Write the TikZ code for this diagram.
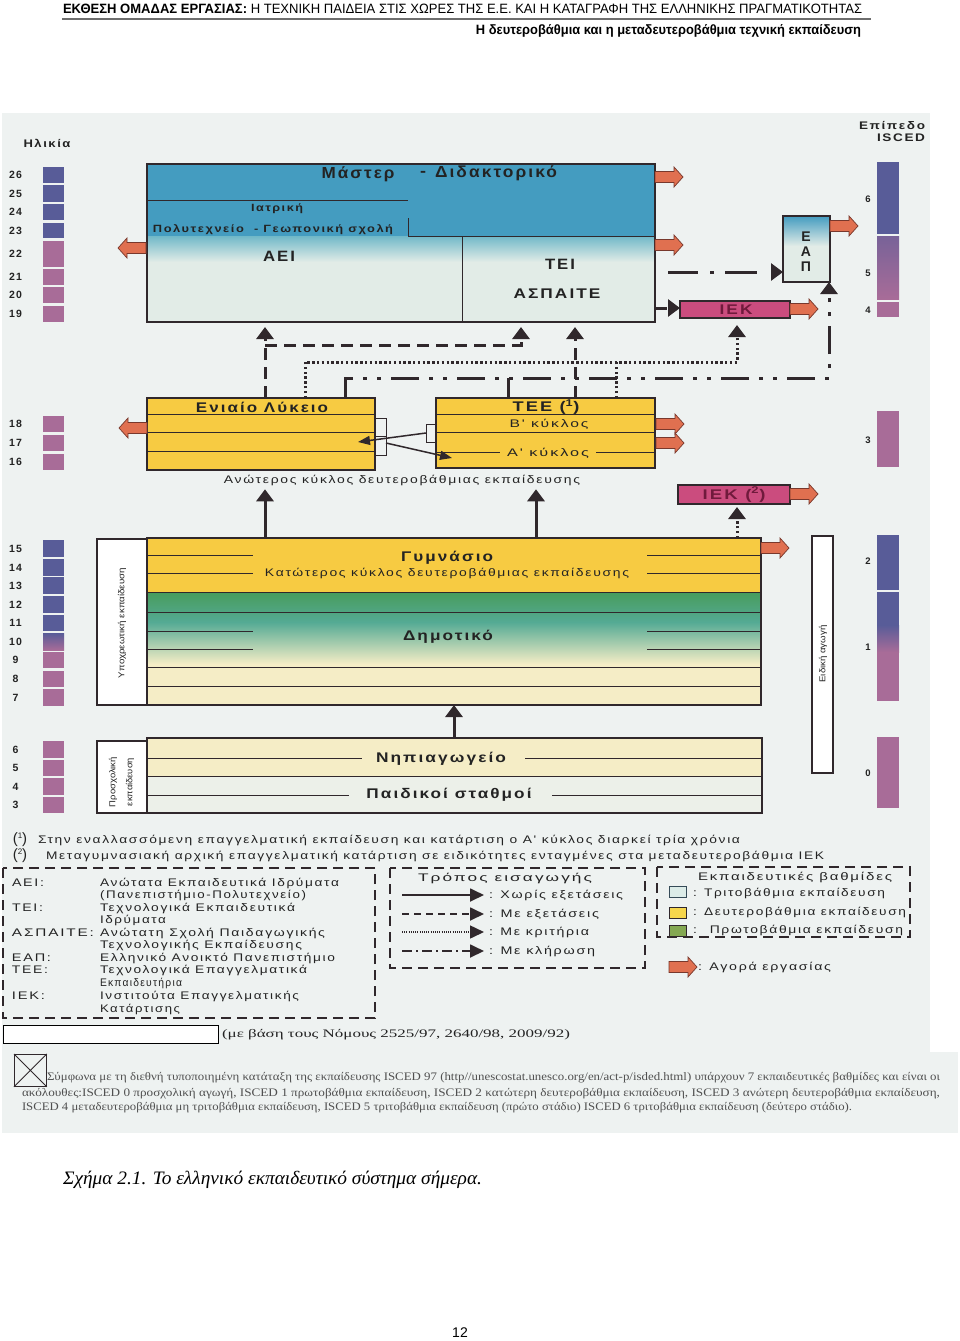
\documentclass[tikz,border=0pt]{standalone}
\usepackage{graphicx}
\usepackage{fontspec}
\setmainfont{Liberation Sans}
\newfontfamily\spf[LetterSpace=12]{Liberation Sans}
\newfontfamily\srff{Liberation Serif}
\usetikzlibrary{arrows.meta}
\newcommand\myfw[2]{\resizebox{#1pt}{\height}{#2}}
\newcommand\myfs[1]{\fontsize{#1}{#1}\selectfont}
\newcommand\SB[3]{{\spf\bfseries\myfs{#1}\myfw{#2}{#3}}}
\newcommand\SR[3]{{\spf\myfs{#1}\myfw{#2}{#3}}}
\newcommand\PR[3]{{\myfs{#1}\myfw{#2}{#3}}}
\definecolor{bg}{RGB}{238,242,241}
\definecolor{tblue}{RGB}{68,156,192}
\definecolor{tteal}{RGB}{112,184,200}
\definecolor{tpale}{RGB}{226,236,231}
\definecolor{yel}{RGB}{247,203,66}
\definecolor{dgreen}{RGB}{72,156,92}
\definecolor{teal2}{RGB}{84,170,148}
\definecolor{pyel}{RGB}{245,237,198}
\definecolor{ppale}{RGB}{236,240,233}
\definecolor{orng}{RGB}{224,112,80}
\definecolor{orline}{RGB}{120,56,44}
\definecolor{mag}{RGB}{203,76,126}
\definecolor{magtxt}{RGB}{112,26,60}
\definecolor{pblue}{RGB}{88,92,152}
\definecolor{mauve}{RGB}{168,108,152}
\definecolor{ink}{RGB}{48,40,44}
\definecolor{tx}{RGB}{35,35,35}
\definecolor{gtxt}{RGB}{80,80,80}
\definecolor{lgreen}{RGB}{132,168,82}
\definecolor{lyel}{RGB}{246,214,76}
\definecolor{lpale}{RGB}{220,236,232}
\definecolor{rulegray}{RGB}{110,110,110}
\tikzset{pics/workarr/.style={code={%
  \draw[fill=orng,draw=orline,line width=0.7pt,line join=miter]
    (0,-5.5) -- (19,-5.5) -- (19,-10) -- (28,0) -- (19,10) -- (19,5.5) -- (0,5.5) -- cycle;}}}
\begin{document}
\begin{tikzpicture}[x=1pt,y=-1pt,
  txt/.style={inner sep=0pt,outer sep=0pt,text=tx},
  num/.style={inner sep=0pt,outer sep=0pt,text=tx,font=\spf\bfseries\myfs{10.5}},
  isc/.style={inner sep=0pt,outer sep=0pt,text=tx,font=\bfseries\myfs{9.5}},
  area/.style={inner sep=0pt,outer sep=0pt,anchor=north west,draw=ink,line width=1.1pt},
  conn/.style={draw=ink,line width=3pt},
  noexam/.style={conn},
  exam/.style={conn,dash pattern=on 12pt off 7pt},
  crit/.style={conn,dash pattern=on 2.4pt off 2.4pt},
  lot/.style={conn,dash pattern=on 28pt off 10pt on 4pt off 10pt on 4pt off 10pt},
  lot2/.style={conn,dash pattern=on 30pt off 12pt on 4pt off 11pt on 32pt off 20pt},
  arr/.style={-{Triangle[width=17pt,length=12pt]}},
  arr2/.style={-{Triangle[width=13pt,length=14pt]}},
  arr3/.style={-{Triangle[width=9pt,length=12pt]}},
  thinln/.style={draw=ink,line width=0.9pt},
  leg/.style={draw=ink,line width=1.6pt,dash pattern=on 10pt off 6pt},
  lsolid/.style={draw=ink,line width=1.8pt},
  ldash/.style={draw=ink,line width=1.8pt,dash pattern=on 7pt off 5pt},
  ldot/.style={draw=ink,line width=1.5pt,dash pattern=on 1pt off 1.2pt},
  llot/.style={draw=ink,line width=1.8pt,dash pattern=on 10pt off 4pt on 2pt off 4pt},
]
\useasboundingbox (0,0) rectangle (960,1341);
\fill[white] (0,0) rectangle (960,1341);
\fill[bg] (2,113) rectangle (930,1052);
\fill[bg] (2,1052) rectangle (958,1133);

% ---------- header
\node[txt,text=black,anchor=base west] (h1) at (63,13) {\myfs{13.5}\myfw{799}{\textbf{ΕΚΘΕΣΗ ΟΜΑΔΑΣ ΕΡΓΑΣΙΑΣ:} Η ΤΕΧΝΙΚΗ ΠΑΙΔΕΙΑ ΣΤΙΣ ΧΩΡΕΣ ΤΗΣ Ε.Ε. ΚΑΙ Η ΚΑΤΑΓΡΑΦΗ ΤΗΣ ΕΛΛΗΝΙΚΗΣ ΠΡΑΓΜΑΤΙΚΟΤΗΤΑΣ}};
\draw[rulegray,line width=1.5pt] (62,19) -- (871,19);
\node[txt,text=black,anchor=base east] (h2) at (861,34) {\myfs{13.5}\myfw{385}{\textbf{Η δευτεροβάθμια και η μεταδευτεροβάθμια τεχνική εκπαίδευση}}};

% ---------- age column
\node[txt] (hl) at (47,143) {\SB{11}{47}{Ηλικία}};
\foreach \a/\t/\b/\c in {26/167/183/pblue,25/185/202/pblue,24/204/220/pblue,23/223/238/pblue,22/241/267/mauve,21/269/285/mauve,20/287/303/mauve,19/306/322/mauve,18/416/432/mauve,17/435/451/mauve,16/454/470/mauve,15/540/557/pblue,14/559/576/pblue,13/577/594/pblue,12/596/613/pblue,11/615/631/pblue,9/652/668/mauve,8/671/687/mauve,7/689/706/mauve,6/741/758/mauve,5/760/776/mauve,4/778/795/mauve,3/797/813/mauve}{
  \fill[\c] (43,\t) rectangle (64,\b);
  \node[num] (age\a) at (15.5,{(\t+\b)/2}) {\a};
}
\shade[top color=pblue,bottom color=mauve] (43,633) rectangle (64,650);
\node[num] (age10) at (15.5,641.5) {10};

% ---------- ISCED column
\node[txt,anchor=east] (ep1) at (925,126) {\SB{11}{66}{Επίπεδο}};
\node[txt,anchor=east] (ep2) at (925,138) {\SB{11}{48}{ISCED}};
\fill[pblue] (877,162) rectangle (899,234);
\shade[top color=pblue!60!mauve,bottom color=mauve] (877,236) rectangle (899,299);
\fill[mauve] (877,302) rectangle (899,317);
\fill[mauve] (877,411) rectangle (899,467);
\fill[pblue] (877,535) rectangle (899,590);
\fill[pblue] (877,592) rectangle (899,625);
\shade[top color=pblue,bottom color=mauve] (877,625) rectangle (899,652);
\fill[mauve] (877,652) rectangle (899,701);
\fill[mauve] (877,737) rectangle (899,808);
\node[isc] (is6) at (868,199) {6};
\node[isc] (is5) at (868,273) {5};
\node[isc] (is4) at (868,310) {4};
\node[isc] (is3) at (868,440) {3};
\node[isc] (is2) at (868,561) {2};
\node[isc] (is1) at (868,647) {1};
\node[isc] (is0) at (868,773) {0};

% ---------- tertiary block
\fill[tblue] (147,164) rectangle (655,236);
\shade[top color=tteal,bottom color=tpale] (147,236) rectangle (655,262);
\fill[tpale] (147,262) rectangle (655,322);
\node[area,minimum width=508pt,minimum height=158pt] (tert) at (147,164) {};
\node[area,draw=none,minimum width=315pt,minimum height=86pt] (aei) at (147,236) {};
\node[area,draw=none,minimum width=193pt,minimum height=86pt] (tei) at (462,236) {};
\draw[thinln] (147,200) -- (408,200);
\draw[thinln] (408,218) -- (408,236) -- (655,236);
\draw[thinln] (462,236) -- (462,322);
\node[txt] (ms1) at (358,174) {\SB{16}{73}{Μάστερ}};
\node[txt] (ms2) at (423,174) {\SB{16}{6}{-}};
\node[txt] (ms3) at (496,173) {\SB{16}{122}{Διδακτορικό}};
\node[txt] (iatr) at (277,209) {\SB{10.5}{52}{Ιατρική}};
\node[txt] (polyt) at (273,230) {\SB{10.5}{240}{Πολυτεχνείο \ - Γεωπονική σχολή}};
\node[txt] (aeiT) at (279,256) {\SB{15}{32}{ΑΕΙ}};
\node[txt] (teiT) at (560,264) {\SB{15}{30}{ΤΕΙ}};
\node[txt] (aspT) at (557,294) {\SB{14}{87}{ΑΣΠΑΙΤΕ}};

% ---------- EAP
\shade[top color=tblue,bottom color=tpale] (783,216) rectangle (830,246);
\fill[tpale] (783,246) rectangle (830,282);
\node[area,minimum width=47pt,minimum height=66pt] (eap) at (783,216) {};
\node[txt] (eapE) at (806,237) {\bfseries\myfs{14}Ε};
\node[txt] (eapA) at (806,252) {\bfseries\myfs{14}Α};
\node[txt] (eapP) at (806,267) {\bfseries\myfs{14}Π};

% ---------- IEK
\node[area,fill=mag,minimum width=110pt,minimum height=17pt] (iek) at (680,301) {};
\node[txt,text=magtxt] (iekT) at (736,310) {\SB{14}{33}{ΙΕΚ}};

% ---------- Lykeio / TEE
\node[area,fill=yel,minimum width=228pt,minimum height=72pt] (lyk) at (147,398) {};
\foreach \y in {414,432,451} \draw[thinln] (147,\y) -- (375,\y);
\node[area,fill=yel,minimum width=219pt,minimum height=70pt] (tee) at (436,398) {};
\foreach \y in {414,432} \draw[thinln] (436,\y) -- (655,\y);
\draw[thinln] (436,452) -- (500,452) (596,452) -- (655,452);
\node[txt] (lykT) at (262,407) {\SB{14}{132}{Ενιαίο Λύκειο}};
\node[txt,anchor=base] (teeT) at (546,411.5) {\SB{14}{67}{ΤΕΕ (\textsuperscript{1})}};
\node[txt,fill=yel] (teeB) at (549,424) {\SR{11}{79}{Β' κύκλος}};
\node[txt,fill=yel] (teeA) at (548,453) {\SR{11}{82}{Α' κύκλος}};
\node[txt] (anot) at (402,480) {\SR{11}{356}{Ανώτερος κύκλος δευτεροβάθμιας εκπαίδευσης}};
% brackets and transfer arrows
\draw[thinln] (375,418) -- (386,418) -- (386,455) -- (375,455);
\draw[thinln] (375,436) -- (386,436);
\draw[thinln] (437,424) -- (426,424) -- (426,442) -- (437,442);
\coordinate (brT) at (426,433);
\coordinate (brL) at (386,443);
\coordinate (inL) at (358,442);
\coordinate (inT) at (452,458);
\draw[ink,line width=1.5pt,arr3] (brT) -- (inL);
\draw[ink,line width=1.5pt,arr3] (brL) -- (inT);

% ---------- IEK (2)
\node[area,fill=mag,minimum width=112pt,minimum height=19pt] (iek2) at (678,485) {};
\node[txt,text=magtxt,anchor=base] (iek2T) at (734,499) {\SB{14}{63}{ΙΕΚ (\textsuperscript{2})}};

% ---------- Gymnasio / Dimotiko
\fill[yel] (147,538) rectangle (761,592);
\shade[top color=dgreen,bottom color=teal2] (147,592) rectangle (761,622);
\shade[top color=teal2,bottom color=pyel] (147,622) rectangle (761,664);
\fill[pyel] (147,664) rectangle (761,705);
\node[area,minimum width=614pt,minimum height=167pt] (gym) at (147,538) {};
\foreach \y in {555,573,631,649} \draw[thinln] (147,\y) -- (253,\y) (647,\y) -- (761,\y);
\foreach \y in {592,612,667,686} \draw[thinln] (147,\y) -- (761,\y);
\node[area,fill=white,minimum width=50pt,minimum height=166pt] (ypox) at (97,539) {};
\node[txt,rotate=90] (ypoxT) at (122,623) {\PR{8.5}{110}{Υποχρεωτική εκπαίδευση}};
\node[txt] (gymT) at (447,558) {\SB{14}{92}{Γυμνάσιο}};
\node[txt] (katT) at (447,573) {\SR{11}{364}{Κατώτερος κύκλος δευτεροβάθμιας εκπαίδευσης}};
\node[txt] (dimT) at (448,637) {\SB{14}{90}{Δημοτικό}};

% ---------- Nipiagogeio
\fill[pyel] (147,738) rectangle (762,776);
\fill[ppale] (147,776) rectangle (762,813);
\node[area,minimum width=615pt,minimum height=75pt] (nip) at (147,738) {};
\draw[thinln] (147,758) -- (362,758) (525,758) -- (762,758);
\draw[thinln] (147,776) -- (762,776);
\draw[thinln] (147,795) -- (349,795) (552,795) -- (762,795);
\node[area,fill=white,minimum width=50pt,minimum height=72pt] (prosx) at (97,741) {};
\node[txt,rotate=90] (prosxA) at (113,782) {\PR{8.5}{50}{Προσχολική}};
\node[txt,rotate=90] (prosxB) at (130,782) {\PR{8.5}{48}{εκπαίδευση}};
\node[txt] (nipT) at (441,759) {\SB{14}{130}{Νηπιαγωγείο}};
\node[txt] (paidT) at (449,795) {\SB{14}{165}{Παιδικοί σταθμοί}};

% ---------- special education
\node[area,fill=white,minimum width=21pt,minimum height=237pt] (eid) at (812,536) {};
\node[txt,rotate=90] (eidT) at (823,654) {\PR{8.5}{57}{Ειδική αγωγή}};

% ---------- labour market arrows
\pic at (655,177) {workarr};
\pic at (655,245) {workarr};
\pic at (830,226) {workarr};
\pic at (790,309) {workarr};
\pic[xscale=-1] at (146,248) {workarr};
\pic[xscale=-1] at (147,428) {workarr};
\pic at (656,424) {workarr};
\pic at (656,443) {workarr};
\pic at (790,494) {workarr};
\pic at (761,548) {workarr};

% ---------- connectors
\coordinate (x265) at (265,0);
\coordinate (x305) at (305,0);
\coordinate (x345) at (345,0);
\coordinate (x454) at (454,0);
\coordinate (x508) at (508,0);
\coordinate (x520) at (521,0);
\coordinate (x535) at (536,0);
\coordinate (x575) at (575,0);
\coordinate (x615) at (616,0);
\coordinate (x737) at (737,0);
\coordinate (x829) at (829,0);
\coordinate (y345) at (0,345);
\coordinate (y362) at (0,362);
\coordinate (y378) at (0,378);
\coordinate (y271) at (0,272);
\coordinate (y309) at (0,308);
\coordinate (teiout) at (668,272);
% with exams
\draw[exam,arr,shorten >=5pt] (lyk.north -| x265) -- (aei.south -| x265);
\draw[exam,arr,shorten >=5pt] (x265 |- y345) -| (tei.south -| x520);
\draw[exam,arr,shorten >=5pt] (tee.north -| x575) -- (tei.south -| x575);
\draw[exam,arr] (tei.east |- y309) -- (iek.west |- y309);
% with criteria
\draw[crit,arr,shorten >=7pt] (lyk.north -| x305) |- (x737 |- y362) -- (iek.south -| x737);
\draw[crit] (tee.north -| x615) -- (x615 |- y362);
% by lot
\draw[lot,arr] (lyk.north -| x345) |- (x829 |- y378) -- (eap.south -| x829);
\draw[conn] (tee.north -| x508) -- (x508 |- y378);
\draw[lot2,arr] (teiout) -- (eap.west |- y271);
% without exams
\draw[noexam,arr,shorten >=4pt] (gym.north -| x265) -- (anot.south -| x265);
\draw[noexam,arr,shorten >=4pt] (gym.north -| x535) -- (anot.south -| x535);
\draw[noexam,arr] (nip.north -| x454) -- (gym.south -| x454);
\draw[crit,arr,shorten >=3pt] (gym.north -| x737) -- (iek2.south -| x737);

% ---------- footnotes
\node[txt] (fn1a) at (20,840) {\myfs{15}(\raisebox{5pt}{\myfs{8}1})};
\node[txt,anchor=west] (fn1) at (38,840) {\SR{11}{702}{Στην εναλλασσόμενη επαγγελματική εκπαίδευση και κατάρτιση ο Α' κύκλος διαρκεί τρία χρόνια}};
\node[txt] (fn2a) at (20,856) {\myfs{15}(\raisebox{5pt}{\myfs{8}2})};
\node[txt,anchor=west] (fn2) at (46,856) {\SR{11}{778}{Μεταγυμνασιακή αρχική επαγγελματική κατάρτιση σε ειδικότητες ενταγμένες στα μεταδευτεροβάθμια ΙΕΚ}};

% ---------- legend 1
\draw[leg] (3,868) rectangle (375,1018);
\foreach \y/\ab/\w in {883/ΑΕΙ:/32,908/ΤΕΙ:/31,933/ΑΣΠΑΙΤΕ:/82,958/ΕΑΠ:/39,970/ΤΕΕ:/36,996/ΙΕΚ:/33}
  \node[txt,anchor=west] (ab\y) at (12,\y) {\SR{11}{\w}{\ab}};
\foreach \y/\d/\w in {883/Ανώτατα Εκπαιδευτικά Ιδρύματα/239,895/(Πανεπιστήμιο-Πολυτεχνείο)/206,908/Τεχνολογικά Εκπαιδευτικά/195,920/Ιδρύματα/66,933/Ανώτατη Σχολή Παιδαγωγικής/225,945/Τεχνολογικής Εκπαίδευσης/202,958/Ελληνικό Ανοικτό Πανεπιστήμιο/235,970/Τεχνολογικά Επαγγελματικά/207,983/Εκπαιδευτήρια/82,996/Ινστιτούτα Επαγγελματικής/199,1009/Κατάρτισης/80}
  \node[txt,anchor=west] (df\y) at (100,\y) {\SR{11}{\w}{\d}};

% ---------- legend 2
\draw[leg] (390,868) rectangle (645,968);
\node[txt] (l2t) at (505,878) {\SR{11}{174}{Τρόπος εισαγωγής}};
\coordinate (l2s1) at (402,895); \coordinate (l2e1) at (484,895);
\coordinate (l2s2) at (402,914); \coordinate (l2e2) at (484,914);
\coordinate (l2s3) at (402,932); \coordinate (l2e3) at (484,932);
\coordinate (l2s4) at (402,951); \coordinate (l2e4) at (484,951);
\draw[lsolid,arr2] (l2s1) -- (l2e1);
\draw[ldash,arr2] (l2s2) -- (l2e2);
\draw[ldot,arr2] (l2s3) -- (l2e3);
\draw[llot,arr2] (l2s4) -- (l2e4);
\node[txt,anchor=west] (l2a) at (489,895) {\SR{11}{134}{: Χωρίς εξετάσεις}};
\node[txt,anchor=west] (l2b) at (489,914) {\SR{11}{110}{: Με εξετάσεις}};
\node[txt,anchor=west] (l2c) at (489,932) {\SR{11}{100}{: Με κριτήρια}};
\node[txt,anchor=west] (l2d) at (489,951) {\SR{11}{106}{: Με κλήρωση}};

% ---------- legend 3
\draw[leg] (657,867) rectangle (910,937);
\node[txt] (l3t) at (795,877) {\SR{11}{194}{Εκπαιδευτικές βαθμίδες}};
\node[draw=ink!70!tblue,line width=1pt,fill=lpale,minimum width=17pt,minimum height=11pt,inner sep=0pt,anchor=north west] (sq1) at (669,886) {};
\node[draw=ink,line width=1pt,fill=lyel,minimum width=17pt,minimum height=11pt,inner sep=0pt,anchor=north west] (sq2) at (669,907) {};
\node[draw=ink,line width=1pt,fill=lgreen,minimum width=17pt,minimum height=11pt,inner sep=0pt,anchor=north west] (sq3) at (669,925) {};
\node[txt,anchor=west] (l3a) at (693,893) {\SR{11}{192}{: Τριτοβάθμια εκπαίδευση}};
\node[txt,anchor=west] (l3b) at (693,912) {\SR{11}{213}{: Δευτεροβάθμια εκπαίδευση}};
\node[txt,anchor=west] (l3c) at (693,930) {\SR{11}{210}{: \ Πρωτοβάθμια εκπαίδευση}};
\pic at (669,967) {workarr};
\node[txt,anchor=west] (l3w) at (698,967) {\SR{11}{133}{: Αγορά εργασίας}};

% ---------- law reference
\node[draw=black,line width=1pt,fill=white,minimum width=215pt,minimum height=18pt,inner sep=0pt,anchor=north west] (lawbox) at (3,1025) {};
\node[txt,anchor=west] (law) at (222,1035) {\srff\myfs{11.5}\myfw{348}{(με βάση τους Νόμους 2525/97, 2640/98, 2009/92)}};

% ---------- ISCED note
\node[draw=ink,line width=0.8pt,minimum width=32pt,minimum height=32pt,inner sep=0pt,anchor=north west] (cb) at (14,1054) {};
\draw[ink,line width=0.8pt] (cb.north west) -- (cb.south east) (cb.south west) -- (cb.north east);
\node[txt,text=gtxt,anchor=west] (nt1) at (47,1078) {\srff\myfs{11.5}\myfw{893}{Σύμφωνα με τη διεθνή τυποποιημένη κατάταξη της εκπαίδευσης ISCED 97 (http//unescostat.unesco.org/en/act-p/isded.html) υπάρχουν 7 εκπαιδευτικές βαθμίδες και είναι οι}};
\node[txt,text=gtxt,anchor=west] (nt2) at (22,1094) {\srff\myfs{11.5}\myfw{918}{ακόλουθες:ISCED 0 προσχολική αγωγή, ISCED 1 πρωτοβάθμια εκπαίδευση, ISCED 2 κατώτερη δευτεροβάθμια εκπαίδευση, ISCED 3 ανώτερη δευτεροβάθμια εκπαίδευση,}};
\node[txt,text=gtxt,anchor=west] (nt3) at (22,1108) {\srff\myfs{11.5}\myfw{830}{ISCED 4 μεταδευτεροβάθμια μη τριτοβάθμια εκπαίδευση, ISCED 5 τριτοβάθμια εκπαίδευση (πρώτο στάδιο) ISCED 6 τριτοβάθμια εκπαίδευση (δεύτερο στάδιο).}};

% ---------- caption and page number
\node[txt,text=black,anchor=base west] (cap) at (63,1184) {\srff\itshape\myfs{19}\myfw{419}{Σχήμα 2.1. Το ελληνικό εκπαιδευτικό σύστημα σήμερα.}};
\node[txt,text=black] (pg) at (460,1333) {\myfs{14}12};
\end{tikzpicture}
\end{document}
